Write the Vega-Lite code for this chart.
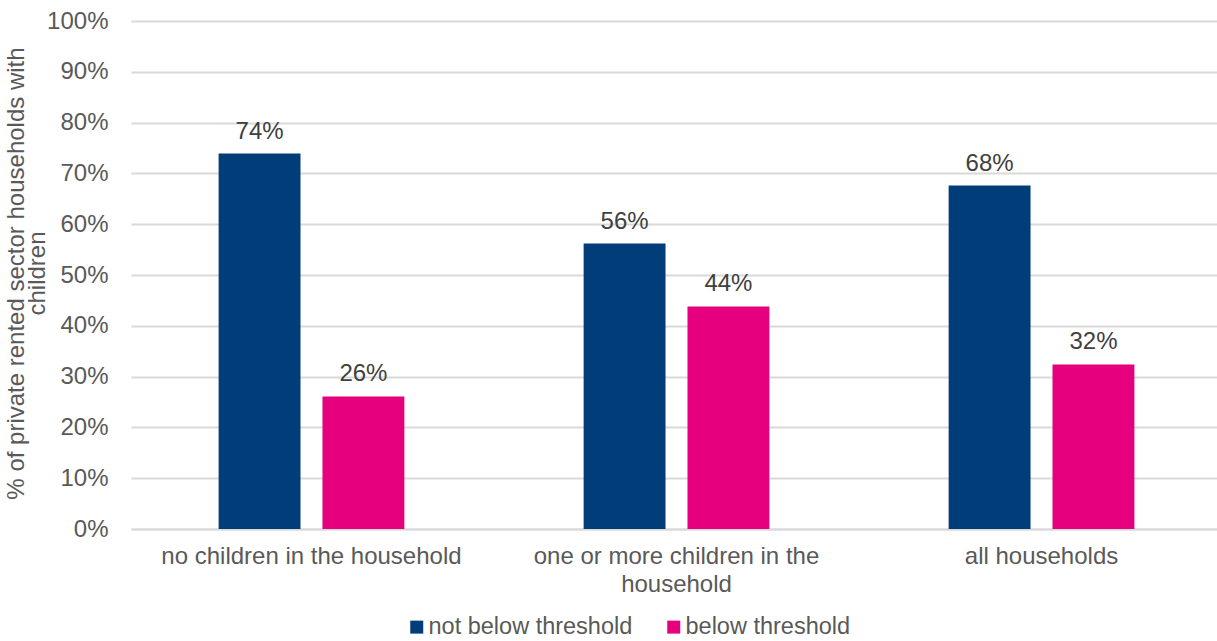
{
  "$schema": "https://vega.github.io/schema/vega-lite/v6.json",
  "width": 1087,
  "height": 508,
  "autosize": {"type": "none"},
  "padding": {"left": 130, "top": 21, "right": 0, "bottom": 112},
  "background": "white",
  "config": {
    "view": {"stroke": null},
    "font": "Liberation Sans",
    "axis": {"labelFont": "Liberation Sans", "titleFont": "Liberation Sans"},
    "legend": {"labelFont": "Liberation Sans"}
  },
  "data": {
    "values": [
      {"group": "no children in the household", "series": "not below threshold", "value": 0.739},
      {"group": "no children in the household", "series": "below threshold", "value": 0.261},
      {"group": "one or more children in the household", "series": "not below threshold", "value": 0.562},
      {"group": "one or more children in the household", "series": "below threshold", "value": 0.438},
      {"group": "all households", "series": "not below threshold", "value": 0.676},
      {"group": "all households", "series": "below threshold", "value": 0.324}
    ]
  },
  "encoding": {
    "x": {
      "field": "group",
      "type": "nominal",
      "sort": null,
      "scale": {"paddingInner": 0.4911, "paddingOuter": 0.24, "range": [1, 1092]},
      "axis": {
        "title": null,
        "labelAngle": 0,
        "labelFontSize": 24,
        "labelColor": "#595959",
        "labelPadding": 15,
        "labelLineHeight": 28,
        "labelBaseline": "top",
        "labelLimit": 0,
        "ticks": false,
        "domain": true,
        "domainColor": "#d9d9d9",
        "domainWidth": 2,
        "labelExpr": "datum.label == 'one or more children in the household' ? ['one or more children in the', 'household'] : datum.label"
      }
    },
    "xOffset": {
      "field": "series",
      "type": "nominal",
      "sort": ["not below threshold", "below threshold"],
      "scale": {"paddingInner": 0.2115, "paddingOuter": 0}
    },
    "y": {
      "field": "value",
      "type": "quantitative",
      "scale": {"domain": [0, 1], "nice": false},
      "axis": {
        "format": ".0%",
        "values": [0, 0.1, 0.2, 0.3, 0.4, 0.5, 0.6, 0.7, 0.8, 0.9, 1],
        "title": ["% of private rented sector households with", "children"],
        "titleFontSize": 24,
        "titleFontWeight": "normal",
        "titleColor": "#595959",
        "titleLineHeight": 21,
        "titleAngle": -90,
        "titleX": -126,
        "titleY": 252,
        "titleAlign": "center",
        "titleBaseline": "top",
        "labelFontSize": 24,
        "labelColor": "#595959",
        "labelPadding": 22,
        "ticks": false,
        "domain": false,
        "grid": true,
        "gridColor": "#d9d9d9",
        "gridWidth": 2
      }
    },
    "color": {
      "field": "series",
      "type": "nominal",
      "sort": ["not below threshold", "below threshold"],
      "scale": {"domain": ["not below threshold", "below threshold"], "range": ["#003d79", "#e6007e"]},
      "legend": {
        "title": null,
        "orient": "none",
        "legendX": 275,
        "legendY": 594,
        "direction": "horizontal",
        "symbolType": "square",
        "symbolSize": 169,
        "symbolStrokeWidth": 0,
        "labelFontSize": 23.5,
        "labelColor": "#595959",
        "labelOffset": 0,
        "labelLimit": 0,
        "columnPadding": 29
      }
    }
  },
  "layer": [
    {"mark": {"type": "bar"}},
    {
      "mark": {"type": "text", "baseline": "bottom", "dy": -10, "fontSize": 24, "color": "#404040"},
      "encoding": {
        "text": {"field": "value", "type": "quantitative", "format": ".0%"},
        "color": {"value": "#404040"}
      }
    }
  ]
}
